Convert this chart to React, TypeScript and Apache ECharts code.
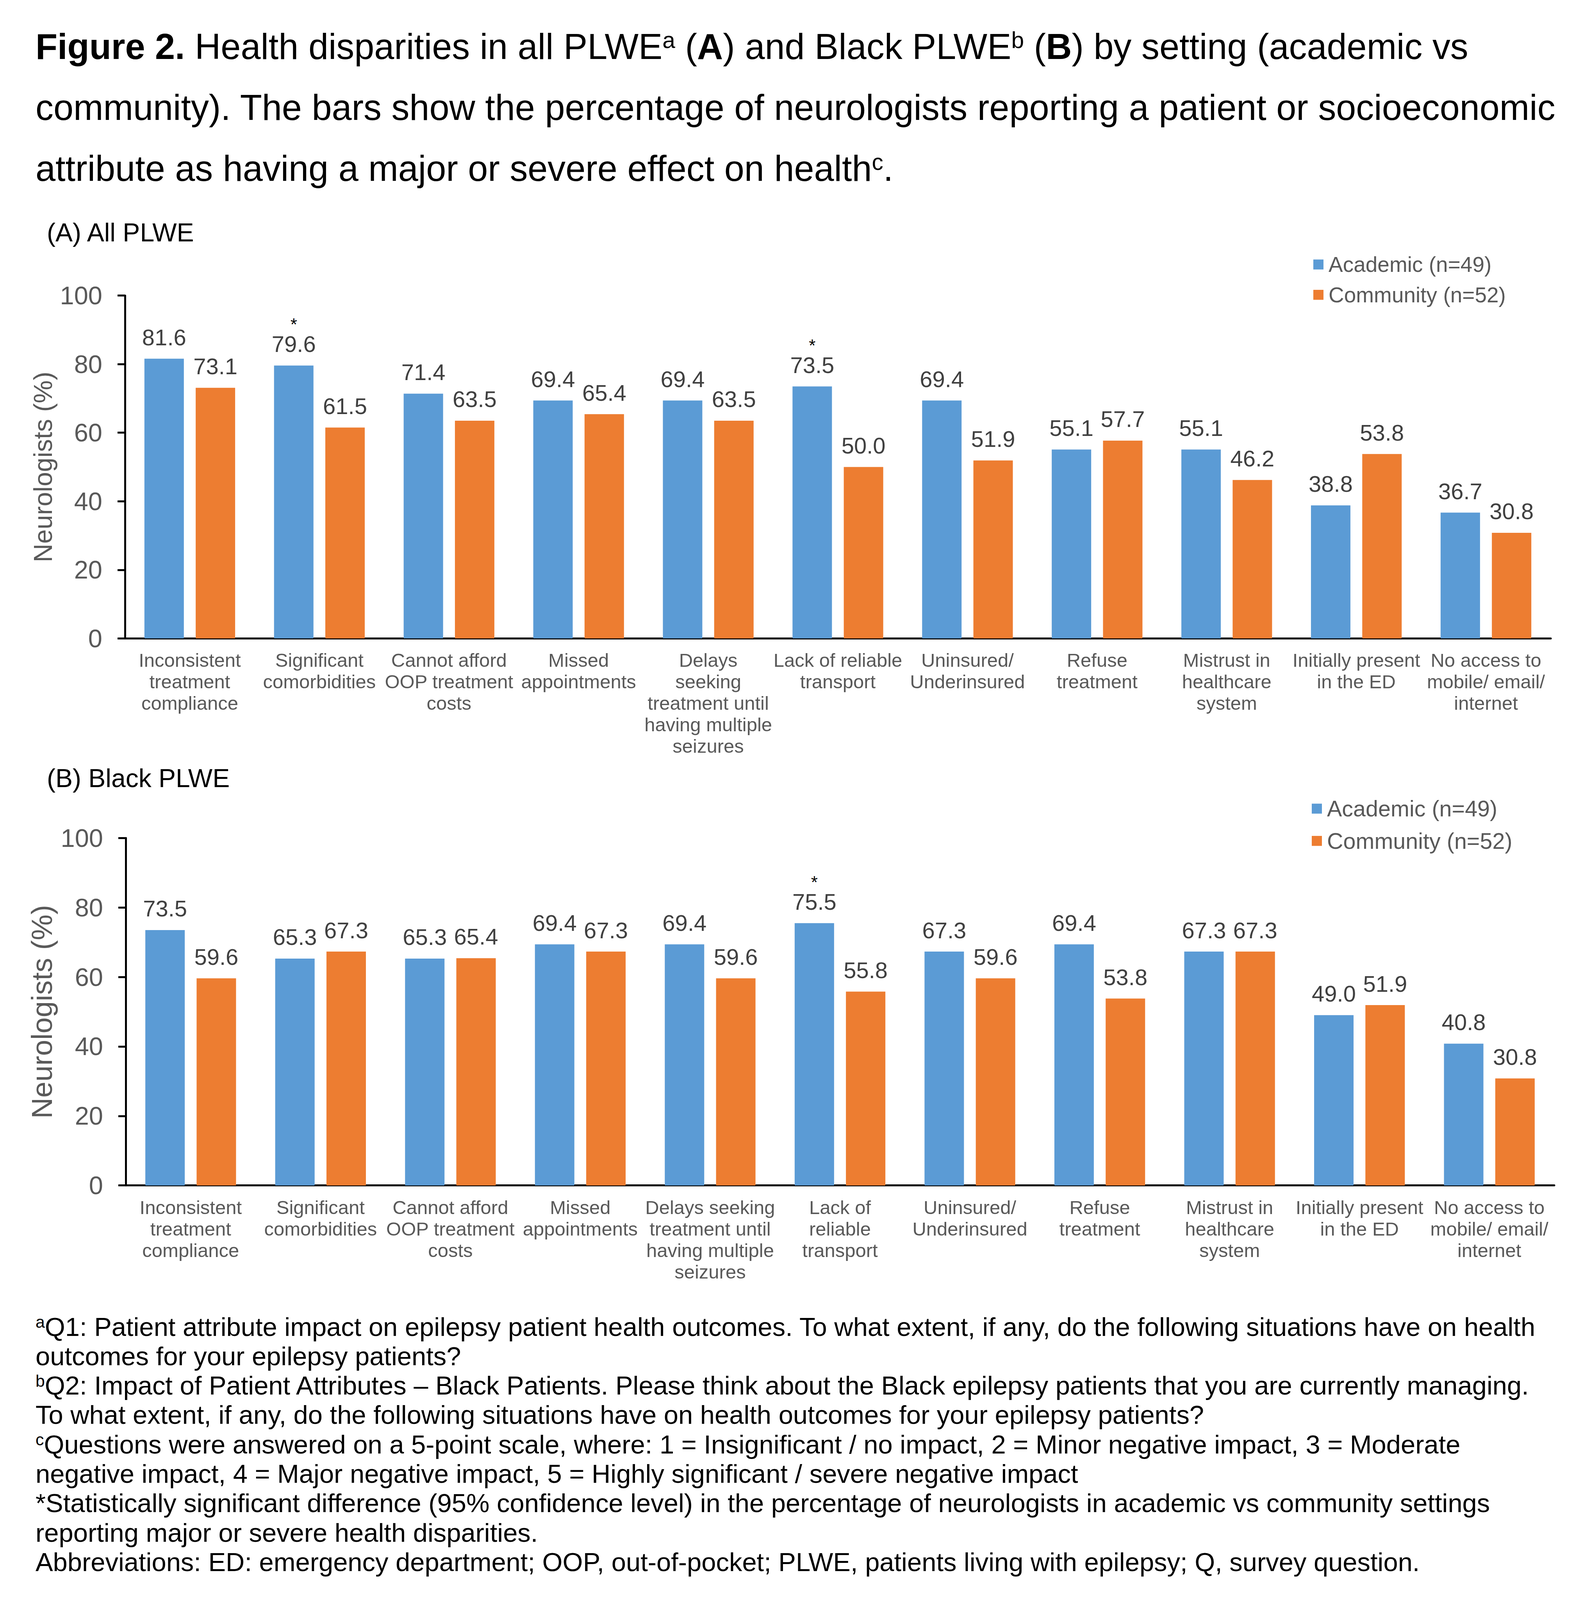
import React, { useEffect, useRef } from "react";
import * as echarts from "echarts";

const FONT = "'Liberation Sans', Arial, Helvetica, sans-serif";

const categoriesA = [
  "Inconsistent\ntreatment\ncompliance",
  "Significant\ncomorbidities",
  "Cannot afford\nOOP treatment\ncosts",
  "Missed\nappointments",
  "Delays\nseeking\ntreatment until\nhaving multiple\nseizures",
  "Lack of reliable\ntransport",
  "Uninsured/\nUnderinsured",
  "Refuse\ntreatment",
  "Mistrust in\nhealthcare\nsystem",
  "Initially present\nin the ED",
  "No access to\nmobile/ email/\ninternet",
];
const categoriesB = [
  "Inconsistent\ntreatment\ncompliance",
  "Significant\ncomorbidities",
  "Cannot afford\nOOP treatment\ncosts",
  "Missed\nappointments",
  "Delays seeking\ntreatment until\nhaving multiple\nseizures",
  "Lack of\nreliable\ntransport",
  "Uninsured/\nUnderinsured",
  "Refuse\ntreatment",
  "Mistrust in\nhealthcare\nsystem",
  "Initially present\nin the ED",
  "No access to\nmobile/ email/\ninternet",
];

const academicA = [81.6, 79.6, 71.4, 69.4, 69.4, 73.5, 69.4, 55.1, 55.1, 38.8, 36.7];
const communityA = [73.1, 61.5, 63.5, 65.4, 63.5, 50.0, 51.9, 57.7, 46.2, 53.8, 30.8];
const academicB = [73.5, 65.3, 65.3, 69.4, 69.4, 75.5, 67.3, 69.4, 67.3, 49.0, 40.8];
const communityB = [59.6, 67.3, 65.4, 67.3, 59.6, 55.8, 59.6, 53.8, 67.3, 51.9, 30.8];

// indices of academic bars flagged with "*" (significant difference)
const significantA = [1, 5];
const significantB = [5];

const seriesNames = ["Academic (n=49)", "Community (n=52)"];
const yMin = 0;
const yMax = 100;
const yInterval = 20;

const panelTitles = ["(A) All PLWE", "(B) Black PLWE"];
const yAxisTitle = "Neurologists (%)";

const titleLines = [
  "{b|Figure 2.} Health disparities in all PLWE{s|a} ({b|A}) and Black PLWE{s|b} ({b|B}) by setting (academic vs",
  "community). The bars show the percentage of neurologists reporting a patient or socioeconomic",
  "attribute as having a major or severe effect on health{s|c}.",
];

const footnoteLines = [
  "{s|a}Q1: Patient attribute impact on epilepsy patient health outcomes. To what extent, if any, do the following situations have on health",
  "outcomes for your epilepsy patients?",
  "{s|b}Q2: Impact of Patient Attributes \u2013 Black Patients. Please think about the Black epilepsy patients that you are currently managing.",
  "To what extent, if any, do the following situations have on health outcomes for your epilepsy patients?",
  "{s|c}Questions were answered on a 5-point scale, where: 1 = Insignificant / no impact, 2 = Minor negative impact, 3 = Moderate",
  "negative impact, 4 = Major negative impact, 5 = Highly significant / severe negative impact",
  "*Statistically significant difference (95% confidence level) in the percentage of neurologists in academic vs community settings",
  "reporting major or severe health disparities.",
  "Abbreviations: ED: emergency department; OOP, out-of-pocket; PLWE, patients living with epilepsy; Q, survey question.",
];

const BLUE = "#5B9BD5";
const ORANGE = "#ED7D31";
const AXIS_TEXT = "#595959";
const LABEL_TEXT = "#404040";

const REF_W = 4051;
const REF_H = 4168;

function viewport() {
  const de = document.documentElement;
  const w = Math.min(window.innerWidth || REF_W, de.clientWidth || REF_W) || REF_W;
  const h = Math.min(window.innerHeight || REF_H, de.clientHeight || REF_H) || REF_H;
  return { w: Math.min(w, REF_W), h: Math.min(h, REF_H) };
}

export default function App() {
  const ref = useRef<HTMLDivElement>(null);
  const vp = typeof window !== "undefined" ? viewport() : { w: REF_W, h: REF_H };

  useEffect(() => {
    document.body.style.margin = "0";
    document.body.style.overflow = "hidden";
    if (!ref.current) return;
    const sx = vp.w / REF_W;
    const sy = vp.h / REF_H;
    const X = (v: number) => v * sx;
    const Y = (v: number) => v * sy;
    const F = (v: number) => v * sx;

    const chart = echarts.init(ref.current, undefined, { renderer: "svg", width: vp.w, height: vp.h });

    const makeLabel = (sig: number[]) => ({
      show: true,
      position: "top",
      distance: Y(27),
      formatter: (p: any) => {
        const v = Number(p.value).toFixed(1);
        return sig.indexOf(p.dataIndex) >= 0 ? `{s|*}\n{v|${v}}` : `{v|${v}}`;
      },
      rich: {
        v: { fontSize: F(58), lineHeight: Y(58), color: LABEL_TEXT, fontFamily: FONT },
        s: { fontSize: F(44), lineHeight: Y(44), color: "#000000", fontFamily: FONT },
      },
    });

    const xAxisCfg = (cats: string[], gridIndex: number) => ({
      type: "category",
      gridIndex,
      data: cats,
      axisLine: { show: true, lineStyle: { color: "#000", width: 5 } },
      axisTick: { show: false },
      axisLabel: {
        interval: 0,
        color: AXIS_TEXT,
        fontSize: F(49),
        lineHeight: Y(56),
        fontFamily: FONT,
        margin: Y(29),
      },
    });

    const yAxisCfg = (gridIndex: number, nameSize: number, nameGap: number) => ({
      type: "value",
      gridIndex,
      min: yMin,
      max: yMax,
      interval: yInterval,
      name: yAxisTitle,
      nameLocation: "middle",
      nameRotate: 90,
      nameGap: X(nameGap),
      nameTextStyle: { color: AXIS_TEXT, fontSize: F(nameSize), fontFamily: FONT },
      axisLine: { show: true, lineStyle: { color: "#000", width: 5 } },
      axisTick: { show: true, length: X(19), lineStyle: { color: "#000", width: 5 } },
      splitLine: { show: false },
      axisLabel: { color: AXIS_TEXT, fontSize: F(65), fontFamily: FONT, margin: X(58) },
    });

    const textEl = (x: number, yCenter: number, text: string, fontSize: number, rich: any) => ({
      type: "text",
      x: X(x),
      y: Y(yCenter),
      silent: true,
      style: {
        text,
        fontSize: F(fontSize),
        lineHeight: F(fontSize),
        fontFamily: FONT,
        fill: "#000000",
        align: "left",
        verticalAlign: "middle",
        rich,
      },
    });

    const TF = 91.8;
    const titleRich = {
      b: { fontWeight: "bold", fontSize: F(TF), lineHeight: F(TF), fontFamily: FONT },
      s: { fontSize: F(TF * 0.64), lineHeight: F(TF * 0.58), verticalAlign: "top", fontFamily: FONT },
    };
    const FF = 66.9;
    const footRich = {
      s: { fontSize: F(FF * 0.64), lineHeight: F(FF * 0.6), verticalAlign: "top", fontFamily: FONT },
    };

    const titleBaselines = [153, 312, 470];
    const graphics: any[] = [];
    titleLines.forEach((t, i) => {
      graphics.push(textEl(91, titleBaselines[i] - 0.3465 * TF, t, TF, titleRich));
    });
    graphics.push(textEl(120, 628 - 0.3465 * 66, panelTitles[0], 66, {}));
    graphics.push(textEl(120, 2050 - 0.3465 * 66, panelTitles[1], 66, {}));
    footnoteLines.forEach((t, i) => {
      const base = 3479 + i * 76.6;
      graphics.push(textEl(91, base - 0.3465 * FF, t, FF, footRich));
    });

    const legendCfg = (left: number, top: number, gap: number, fs: number) => ({
      data: seriesNames,
      orient: "vertical",
      left: X(left),
      top: Y(top),
      padding: 0,
      itemWidth: X(26),
      itemHeight: Y(26),
      itemGap: Y(gap),
      icon: "rect",
      selectedMode: false,
      textStyle: {
        color: AXIS_TEXT,
        fontSize: F(fs),
        lineHeight: Y(58),
        fontFamily: FONT,
        padding: [0, 0, 0, X(8)],
      },
    });

    const barSeries = (name: string, axis: number, data: number[], color: string, sig: number[]) => ({
      name,
      type: "bar",
      xAxisIndex: axis,
      yAxisIndex: axis,
      data,
      barWidth: X(101),
      barGap: "30%",
      itemStyle: { color },
      label: makeLabel(sig),
    });

    const option: any = {
      animation: false,
      backgroundColor: "#ffffff",
      textStyle: { fontFamily: FONT },
      grid: [
        { left: X(320), top: Y(770), width: X(3651), height: Y(893), containLabel: false },
        { left: X(322), top: Y(2183), width: X(3658), height: Y(905), containLabel: false },
      ],
      legend: [legendCfg(3363, 660, 21, 55), legendCfg(3359, 2077, 25, 57.5)],
      xAxis: [xAxisCfg(categoriesA, 0), xAxisCfg(categoriesB, 1)],
      yAxis: [yAxisCfg(0, 66, 162), yAxisCfg(1, 74, 150)],
      series: [
        barSeries(seriesNames[0], 0, academicA, BLUE, significantA),
        barSeries(seriesNames[1], 0, communityA, ORANGE, []),
        barSeries(seriesNames[0], 1, academicB, BLUE, significantB),
        barSeries(seriesNames[1], 1, communityB, ORANGE, []),
      ],
      graphic: graphics,
    };

    chart.setOption(option);
    return () => {
      chart.dispose();
    };
  }, []);

  return (
    <div
      ref={ref}
      style={{ position: "absolute", left: 0, top: 0, width: vp.w, height: vp.h, background: "#fff" }}
    />
  );
}
